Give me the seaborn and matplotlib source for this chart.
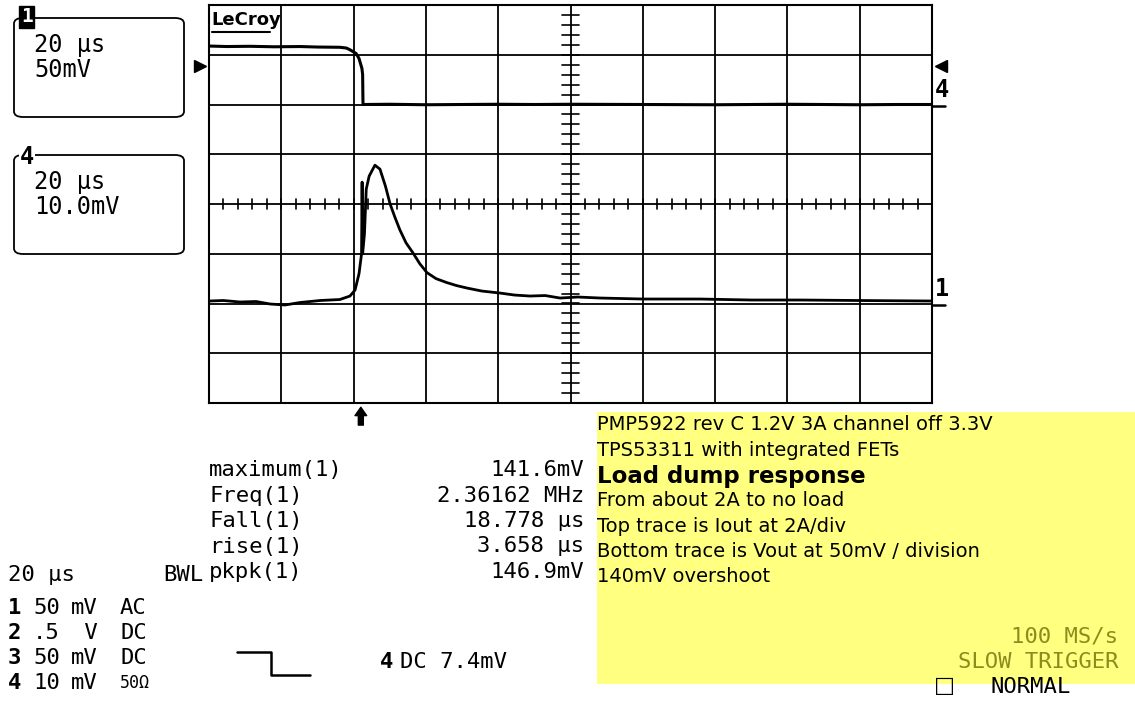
import numpy as np
import pandas as pd
import matplotlib
matplotlib.use('Agg')
import matplotlib.pyplot as plt
import seaborn as sns
from matplotlib.patches import FancyBboxPatch, Rectangle
from matplotlib.lines import Line2D

# Réglages de l'écran (20 us/div, 10 divisions x 8)
temps_div = 20.0
ch1_echelle = 50.0   # mV/div
ch1_offset = -2.0    # div
ch4_echelle = 2.0    # A/div
ch4_offset = 2.0     # div
trig_niveau = 2.77   # div
trig_temps = 42.0    # us

# Trace du haut : courant de sortie (A)
t4 = [0, 5, 11.3, 18, 25.2, 30, 36.2, 38.0, 39.0, 40.7, 41.5, 42.3, 42.5, 42.6, 50,
      60, 70, 80, 90, 100, 120, 140, 160, 170, 180, 190, 200]
i4 = [2.35, 2.33, 2.34, 2.32, 2.33, 2.31, 2.30, 2.27, 2.20, 2.05, 1.85, 1.45, 1.20,
      0.0, 0.01, -0.01, 0.0, 0.01, 0.0, 0.01, 0.0, -0.01, 0.01, 0.0, -0.01, 0.0, 0.0]

# Trace du bas : tension de sortie (mV)
t1 = [0, 4, 8.6, 13.0, 16.9, 21.0, 25.2, 30.7, 36.2, 39.0, 40.4, 41.5, 42.2, 42.35,
      42.5, 43.0, 43.5, 44.3, 45.9, 47.3, 48.8, 50.1, 51.5, 52.8, 54.5, 56.4, 58.3,
      60.3, 62.8, 65.8, 68.5, 71.4, 75.5, 80.5, 84.5, 88.8, 93, 97.1, 102, 108.2,
      120, 135.8, 150, 163.5, 180, 200]
v1 = [2.5, 3.0, 1.5, 2.0, -0.5, -1.5, 1.0, 3.0, 4.0, 7.5, 13.5, 30, 50, 122,
      50, 70, 115, 128, 139, 135, 118, 100, 86, 74, 61, 51, 40,
      31, 25, 21, 18, 15.5, 12.5, 10.5, 8.5, 7.5, 8.0, 5.5, 6.5, 5.5,
      4.5, 4.5, 3.5, 3.5, 3.0, 2.5]

mesures = ['maximum(1)', 'Freq(1)', 'Fall(1)', 'rise(1)', 'pkpk(1)']
valeurs = ['141.6mV', '2.36162 MHz', '18.778 µs', '3.658 µs', '146.9mV']
canaux = [('1', '50', 'mV', 'AC'), ('2', '.5', ' V', 'DC'),
          ('3', '50', 'mV', 'DC'), ('4', '10', 'mV', '50Ω')]
notes = ['PMP5922 rev C 1.2V 3A channel off 3.3V',
         'TPS53311 with integrated FETs',
         'Load dump response',
         'From about 2A to no load',
         'Top trace is Iout at 2A/div',
         'Bottom trace is Vout at 50mV / division',
         '140mV overshoot']

df4 = pd.DataFrame({'t': t4, 'div': ch4_offset + np.array(i4) / ch4_echelle})
df1 = pd.DataFrame({'t': t1, 'div': ch1_offset + np.array(v1) / ch1_echelle})

sns.set_theme(style='white')
plt.rcParams['font.family'] = ['DejaVu Sans']
plt.rcParams['text.color'] = 'black'
mono = 'DejaVu Sans Mono'

W, H = 1135, 702
fig = plt.figure(figsize=(W / 100, H / 100), dpi=100)
fig.patch.set_facecolor('white')


def fx(px):
    return px / W


def fy(py):
    return 1 - py / H


ax = fig.add_axes([fx(209), fy(403), fx(932) - fx(209), fy(5) - fy(403)])
ax.set_facecolor('white')
ax.set_xlim(0, 10 * temps_div)
ax.set_ylim(-4, 4)
ax.set_xticks(np.arange(0, 10 * temps_div + 1, temps_div))
ax.set_yticks(np.arange(-4, 5, 1))
ax.grid(True, color='black', lw=1.3)
ax.tick_params(length=0, labelbottom=False, labelleft=False)
for s in ax.spines.values():
    s.set_color('black')
    s.set_linewidth(1.5)

# graduations de l'axe central
cx = 5 * temps_div
for xt in np.arange(0, 10 * temps_div + 0.1, temps_div / 5):
    ax.plot([xt, xt], [-0.1, 0.1], color='black', lw=1.2)
for yt in np.arange(-4, 4.01, 0.2):
    ax.plot([cx - 2.3, cx + 2.3], [yt, yt], color='black', lw=1.2)

sns.lineplot(data=df4, x='t', y='div', color='black', lw=2.2, estimator=None,
             sort=False, ax=ax)
sns.lineplot(data=df1, x='t', y='div', color='black', lw=2.0, estimator=None,
             sort=False, ax=ax)
ax.set_xlabel('')
ax.set_ylabel('')

# repères de masse et de déclenchement
ytr = ax.get_yaxis_transform()
for off, lab in [(ch4_offset, '4'), (ch1_offset, '1')]:
    ax.plot([1.0, 1.018], [off - 0.04, off - 0.04], color='black', lw=1.8,
            transform=ytr, clip_on=False)
    ax.text(1.004, off + 0.06, lab, transform=ytr, fontsize=17, fontweight='bold',
            family=mono, va='bottom', ha='left')
ax.plot([1.012], [trig_niveau], marker='<', color='black', ms=8, transform=ytr,
        clip_on=False)
ax.plot([-0.012], [trig_niveau], marker='>', color='black', ms=8, transform=ytr,
        clip_on=False)
ax.annotate('', xy=(trig_temps, -4.03), xytext=(trig_temps, -4.5),
            arrowprops=dict(arrowstyle='simple,head_width=0.7,head_length=0.5,tail_width=0.3',
                            color='black'), annotation_clip=False)

# logo
fig.text(fx(211), fy(20), 'LeCroy', fontsize=13, fontweight='bold', va='center',
         ha='left', family='DejaVu Sans')
fig.add_artist(Line2D([fx(212), fx(270)], [fy(32), fy(32)], color='black', lw=1.5))

# boîtes de canaux
for top, lab, l1, l2 in [(18, '1', '20 µs', '50mV'), (155, '4', '20 µs', '10.0mV')]:
    box = FancyBboxPatch((fx(14), fy(top + 99)), fx(170), (99) / H,
                         boxstyle='round,pad=0,rounding_size=0.008',
                         transform=fig.transFigure, fill=False, ec='black', lw=1.3)
    fig.add_artist(box)
    fig.text(fx(34), fy(top + 27), l1, fontsize=17, family=mono, va='center')
    fig.text(fx(34), fy(top + 52), l2, fontsize=17, family=mono, va='center')
fig.text(fx(21), fy(17), '1', fontsize=14, fontweight='bold', color='white',
         family=mono, va='center',
         bbox=dict(boxstyle='square,pad=0.08', fc='black', ec='black'))
fig.text(fx(20), fy(157), '4', fontsize=17, fontweight='bold', family=mono,
         va='center', bbox=dict(boxstyle='square,pad=0.05', fc='white', ec='none'))

# mesures
taille = 16
for k, (m, v) in enumerate(zip(mesures, valeurs)):
    y = 470 + k * 25.5
    fig.text(fx(209), fy(y), m, fontsize=taille, family=mono, va='center')
    fig.text(fx(584), fy(y), v, fontsize=taille, family=mono, va='center', ha='right')

fig.text(fx(8), fy(575), '20 µs', fontsize=taille, family=mono, va='center')
fig.text(fx(203), fy(575), 'BWL', fontsize=taille, family=mono, va='center', ha='right')
for k, (n, val, u, cpl) in enumerate(canaux):
    y = 608 + k * 25
    fig.text(fx(8), fy(y), n, fontsize=taille, family=mono, fontweight='bold', va='center')
    fig.text(fx(33), fy(y), val, fontsize=taille, family=mono, va='center')
    fig.text(fx(71), fy(y), u, fontsize=taille, family=mono, va='center')
    fig.text(fx(120), fy(y), cpl, fontsize=taille if cpl != '50Ω' else 12, family=mono,
             va='center')

fig.add_artist(Line2D([fx(237), fx(271), fx(271), fx(310)],
                      [fy(652), fy(652), fy(675), fy(675)], color='black', lw=1.8))
fig.text(fx(380), fy(662), '4', fontsize=taille, family=mono, fontweight='bold', va='center')
fig.text(fx(400), fy(662), 'DC 7.4mV', fontsize=taille, family=mono, va='center')

# encadré jaune
fig.add_artist(Rectangle((fx(597), fy(684)), fx(1135) - fx(597), (684 - 412) / H,
                         transform=fig.transFigure, fc='#ffff80', ec='none', zorder=-1))
for k, ligne in enumerate(notes):
    y = 425 + k * 25.3
    if k == 2:
        fig.text(fx(597), fy(y + 1), ligne, fontsize=16.5, fontweight='bold', va='center')
    else:
        fig.text(fx(597), fy(y), ligne, fontsize=14, va='center')

olive = '#8c8c1e'
fig.text(fx(1118), fy(637), '100 MS/s', fontsize=taille, family=mono, color=olive,
         va='center', ha='right')
fig.text(fx(1118), fy(662), 'SLOW TRIGGER', fontsize=taille, family=mono, color=olive,
         va='center', ha='right')
fig.text(fx(934), fy(686), '□', fontsize=16, family='DejaVu Sans', va='center')
fig.text(fx(990), fy(687), 'NORMAL', fontsize=taille, family=mono, va='center')

fig.savefig('out.png', dpi=100)
